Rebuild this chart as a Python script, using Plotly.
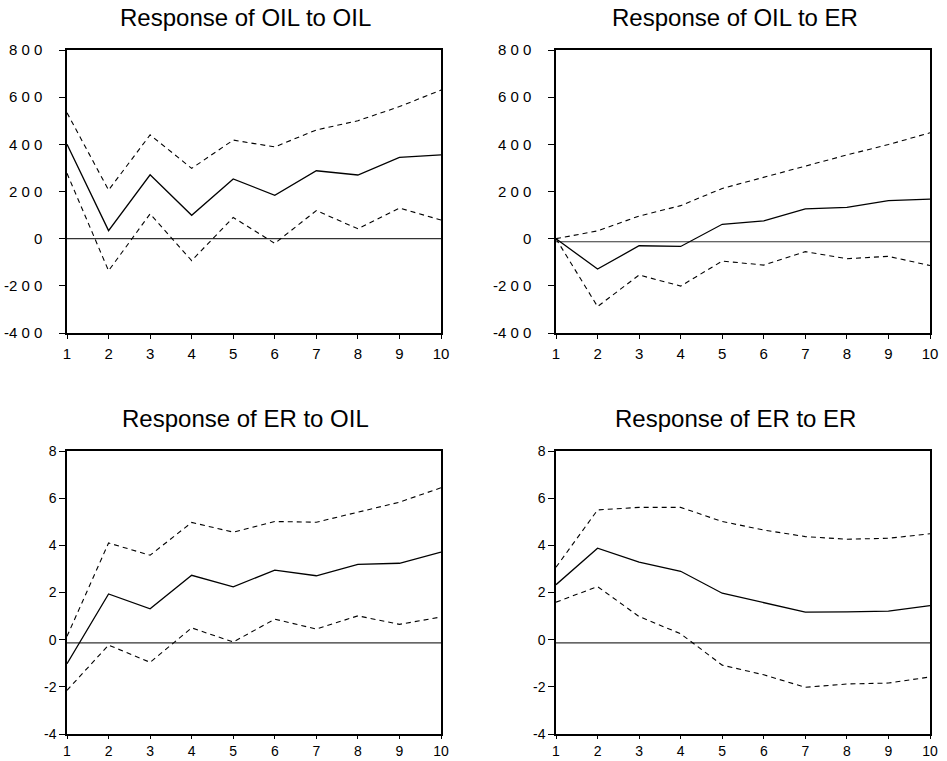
import plotly.graph_objects as go

W, H = 947, 761

periods = [1, 2, 3, 4, 5, 6, 7, 8, 9, 10]

titles = ["Response of OIL to OIL", "Response of OIL to ER",
          "Response of ER to OIL", "Response of ER to ER"]

# Impulse responses (solid) with +/- 2 S.E. bands (dashed)
oil_oil = [400, 34, 271, 99, 253, 184, 288, 270, 345, 355]
oil_oil_hi = [534, 206, 440, 298, 418, 389, 461, 500, 560, 630]
oil_oil_lo = [277, -136, 105, -93, 90, -20, 119, 42, 130, 79]

oil_er = [0, -129, -30, -33, 61, 75, 126, 133, 161, 168]
oil_er_hi = [0, 33, 96, 140, 213, 260, 310, 355, 399, 449]
oil_er_lo = [0, -288, -154, -201, -95, -112, -55, -85, -75, -114]

er_oil = [-1.02, 1.94, 1.31, 2.73, 2.24, 2.95, 2.71, 3.19, 3.24, 3.71]
er_oil_hi = [0.14, 4.10, 3.58, 4.97, 4.56, 5.01, 4.98, 5.39, 5.83, 6.44]
er_oil_lo = [-2.15, -0.23, -0.96, 0.50, -0.10, 0.87, 0.45, 1.01, 0.65, 0.96]

er_er = [2.33, 3.88, 3.29, 2.90, 1.97, 1.58, 1.17, 1.18, 1.21, 1.44]
er_er_hi = [3.07, 5.50, 5.61, 5.61, 5.01, 4.65, 4.37, 4.26, 4.30, 4.49]
er_er_lo = [1.59, 2.25, 0.98, 0.25, -1.08, -1.49, -2.02, -1.88, -1.84, -1.58]

# reference (zero) line level as drawn in each panel
zero_levels = [0, -13, -0.14, -0.14]

oil_ticks = [-400, -200, 0, 200, 400, 600, 800]
oil_ticktext = ["-4 0 0", "-2 0 0", "0", "2 0 0", "4 0 0", "6 0 0", "8 0 0"]
er_ticks = [-4, -2, 0, 2, 4, 6, 8]
er_ticktext = ["-4", "-2", "0", "2", "4", "6", "8"]

panels = [
    (oil_oil, oil_oil_hi, oil_oil_lo),
    (oil_er, oil_er_hi, oil_er_lo),
    (er_oil, er_oil_hi, er_oil_lo),
    (er_er, er_er_hi, er_er_lo),
]

# pixel geometry of plot boxes (left, right, top, bottom)
boxes = [(67, 441, 50, 333), (556, 930, 50, 333),
         (67, 441, 451, 734), (556, 930, 451, 734)]
title_pos = [(245, 18), (735, 18), (245, 419), (735, 419)]

FONT = "Liberation Sans, Arial, sans-serif"

fig = go.Figure()
layout = dict(
    width=W, height=H, margin=dict(l=0, r=0, t=0, b=0, autoexpand=False),
    paper_bgcolor="white", plot_bgcolor="white", showlegend=False,
    font=dict(family=FONT, color="black"),
)
annotations = []

for i, (mid, hi, lo) in enumerate(panels):
    n = i + 1
    xa = "x" if n == 1 else f"x{n}"
    ya = "y" if n == 1 else f"y{n}"
    fig.add_trace(go.Scatter(x=[periods[0], periods[-1]],
                             y=[zero_levels[i], zero_levels[i]],
                             mode="lines", line=dict(color="#333", width=1.2),
                             xaxis=xa, yaxis=ya, hoverinfo="skip"))
    fig.add_trace(go.Scatter(x=periods, y=hi, mode="lines",
                             line=dict(color="black", width=1.1, dash="5px,4px"),
                             xaxis=xa, yaxis=ya))
    fig.add_trace(go.Scatter(x=periods, y=lo, mode="lines",
                             line=dict(color="black", width=1.1, dash="5px,4px"),
                             xaxis=xa, yaxis=ya))
    fig.add_trace(go.Scatter(x=periods, y=mid, mode="lines",
                             line=dict(color="black", width=1.3),
                             xaxis=xa, yaxis=ya))

    l, r, t, b = boxes[i]
    top_row = i < 2
    xkey = "xaxis" if n == 1 else f"xaxis{n}"
    ykey = "yaxis" if n == 1 else f"yaxis{n}"
    layout[xkey] = dict(
        domain=[l / W, r / W], anchor=ya, range=[1, 10], automargin=False,
        tickvals=periods, ticktext=[str(p) for p in periods],
        ticks="outside", ticklen=4 if top_row else 3, tickwidth=1,
        tickcolor="black",
        showline=True, linecolor="black", linewidth=1.5, mirror=True,
        showgrid=False, zeroline=False,
        tickfont=dict(size=15 if top_row else 14, family=FONT, color="black"),
        ticklabelstandoff=2 if top_row else 0,
    )
    layout[ykey] = dict(
        domain=[1 - b / H, 1 - t / H], anchor=xa, automargin=False,
        range=[-400, 800] if top_row else [-4, 8],
        tickvals=oil_ticks if top_row else er_ticks,
        ticktext=oil_ticktext if top_row else er_ticktext,
        ticks="outside", ticklen=6, tickwidth=1, tickcolor="black",
        showline=True, linecolor="black", linewidth=1.5, mirror=True,
        showgrid=False, zeroline=False,
        tickfont=dict(size=15 if top_row else 14, family=FONT, color="black"),
        ticklabelstandoff=14 if top_row else 0,
    )
    tx, ty = title_pos[i]
    annotations.append(dict(
        text=titles[i], xref="paper", yref="paper", x=tx / W, y=1 - ty / H,
        xanchor="center", yanchor="middle", showarrow=False,
        font=dict(size=24, family=FONT, color="black"),
    ))

layout["annotations"] = annotations
fig.update_layout(**layout)
fig.write_html("out.html")
